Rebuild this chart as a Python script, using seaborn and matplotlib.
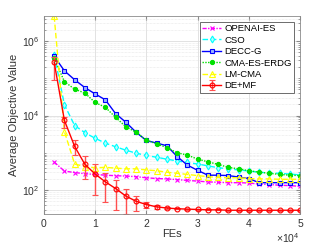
import math
import matplotlib
matplotlib.use("Agg")
import matplotlib.pyplot as plt
import seaborn as sns
from matplotlib.ticker import FixedLocator, LogLocator, NullFormatter, FuncFormatter

# x axis: function evaluations
fes = list(range(2000, 50001, 2000))

openai_es = [562, 324, 295, 275, 263, 251, 243, 238, 229, 214, 204, 200, 191,
             182, 174, 166, 162, 158, 158, 155, 145, 141, 135, 132, 126]
cso = [4.3e5, 1.95e4, 5370, 3470, 2450, 1820, 1450, 1175, 977, 851, 759, 676,
       603, 550, 501, 447, 398, 372, 347, 324, 302, 288, 282, 269, 257]
decc_g = [3.9e5, 1.58e5, 9.1e4, 5.6e4, 3.8e4, 2.63e4, 1.12e4, 6600, 3550, 2140,
          1820, 1550, 794, 468, 339, 251, 251, 245, 224, 204, 158, 158, 158, 158, 158]
cma_es_erdg = [3.47e5, 8.1e4, 5.1e4, 4.0e4, 2.24e4, 1.66e4, 8900, 5000, 3550,
               2190, 1740, 1380, 1000, 871, 676, 575, 490, 407, 372, 331, 302,
               282, 263, 251, 245]
lm_cma = [4.6e6, 3700, 500, 427, 398, 407, 389, 372, 372, 347, 331, 302, 282,
          263, 245, 229, 219, 214, 214, 204, 200, 200, 195, 195, 195]
de_mf = [2.7e5, 7400, 1480, 490, 269, 166, 110, 69, 50, 41, 35.5, 33, 31.6,
         30.9, 30.2, 29.5, 29.5, 28.8, 28.8, 28.8, 28.8, 28.8, 28.8, 28.8, 28.8]
de_mf_low = [9.1e4, 4570, 870, 204, 74, 49, 30, 23, 28, 33, 32, 31, 30.5,
             30, 29.3, 28.7, 28.7, 28, 28, 28, 28, 28, 28, 28, 28]
de_mf_high = [3.8e5, 9300, 2240, 813, 490, 282, 186, 110, 71, 49, 39, 35, 32.8,
              31.8, 31.1, 30.3, 30.3, 29.6, 29.6, 29.6, 29.6, 29.6, 29.6, 29.6, 29.6]

plt.rcParams['font.family'] = ['Liberation Sans', 'DejaVu Sans']
plt.rcParams['mathtext.fontset'] = 'custom'
plt.rcParams['mathtext.rm'] = 'Liberation Sans'

fig = plt.figure(figsize=(3.23, 2.45), dpi=100)
ax = fig.add_axes([0.136, 0.127, 0.793, 0.808])

series = [
    ("OPENAI-ES", openai_es, "#ff00ff", "x", (0, (3, 1, 1, 1)), "#ff00ff", 2.5),
    ("CSO", cso, "#00ffff", "d", (0, (4, 2)), "#b0ffff", 3.5),
    ("DECC-G", decc_g, "#0000ff", "s", "-", "#9fb8ff", 3),
    ("CMA-ES-ERDG", cma_es_erdg, "#00e000", "o", (0, (1, 1)), "#00e000", 3),
    ("LM-CMA", lm_cma, "#ffff00", "^", (0, (4, 2)), "none", 4),
]
for name, vals, col, mk, ls, fc, ms in series:
    sns.lineplot(x=fes, y=vals, ax=ax, color=col, marker=mk, linestyle=ls,
                 linewidth=1.0, markersize=ms, mec=col, mfc=fc, mew=0.8,
                 label=name)

ax.errorbar(fes, de_mf,
            yerr=[[v - lo for v, lo in zip(de_mf, de_mf_low)],
                  [hi - v for v, hi in zip(de_mf, de_mf_high)]],
            color="#ff0000", ecolor="#ff5050", marker="o", markersize=3.5,
            mfc="none", mec="#ff0000", mew=0.8, linewidth=1.0,
            elinewidth=1.0, capsize=2, capthick=0.8, label="DE+MF")

ax.set_yscale("log")
ax.set_xlim(0, 50000)
ax.set_ylim(23, 4.7e6)

ax.yaxis.set_major_locator(FixedLocator([1e2, 1e4, 1e6]))
ax.yaxis.set_major_formatter(FuncFormatter(
    lambda v, p: r"$10^{%d}$" % round(math.log10(v))))
ax.yaxis.set_minor_locator(LogLocator(base=10, subs=range(1, 10), numticks=20))
ax.yaxis.set_minor_formatter(NullFormatter())
ax.set_xticks([0, 10000, 20000, 30000, 40000, 50000])
ax.set_xticklabels(["0", "1", "2", "3", "4", "5"])

ax.grid(True, which="major", color="#dddddd", linewidth=0.6)
ax.grid(True, which="minor", axis="y", color="#e4e4e4", linewidth=0.5,
        linestyle=(0, (1, 1)))
ax.set_axisbelow(True)

for sp in ax.spines.values():
    sp.set_color("#8a8a8a")
    sp.set_linewidth(0.6)
ax.tick_params(which="both", direction="in", top=True, right=True,
               colors="#8a8a8a", labelcolor="#333333", labelsize=7.5)
ax.tick_params(which="major", length=3)
ax.tick_params(which="minor", length=1.5)

ax.set_xlabel("FEs", fontsize=8, color="#333333", labelpad=0)
ax.set_ylabel("Average Objective Value", fontsize=8, color="#333333", labelpad=2)
fig.text(0.855, 0.008, r"$\times10^{4}$", fontsize=7.5, color="#333333")

leg = ax.legend(loc="upper right", fontsize=6.8, frameon=True, fancybox=False,
                edgecolor="#555555", framealpha=1, borderpad=0.3,
                labelspacing=0.25, handlelength=2.0, handletextpad=0.3,
                borderaxespad=0.6, numpoints=1)
leg.get_frame().set_linewidth(0.6)

fig.savefig("out.png", dpi=100)
